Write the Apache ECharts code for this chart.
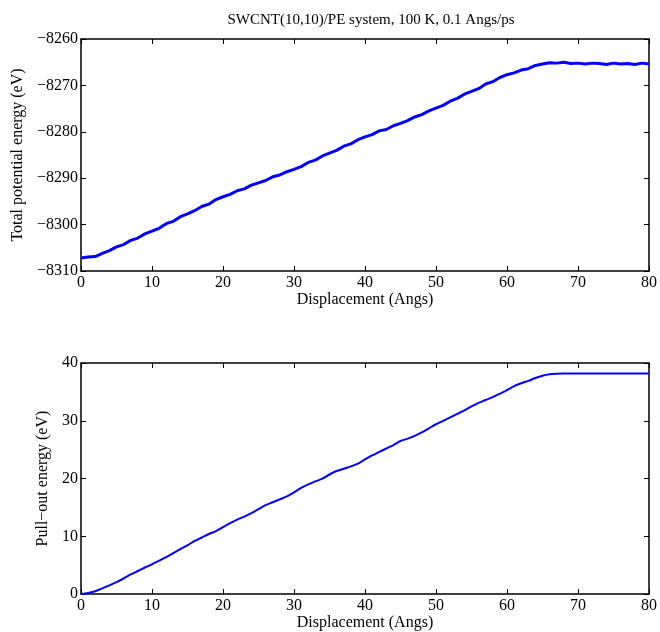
<!DOCTYPE html>
<html>
<head>
<meta charset="utf-8">
<script src="https://cdn.jsdelivr.net/npm/echarts@6/dist/echarts.min.js"></script>
<style>html,body{margin:0;padding:0;background:#fff}#c{width:660px;height:632px}</style>
</head>
<body>
<div id="c"></div>
<script>
var titleText = 'SWCNT(10,10)/PE system, 100 K, 0.1 Angs/ps';
var xName = 'Displacement (Angs)';
var yNameTop = 'Total potential energy (eV)';
var yNameBottom = 'Pull\u2212out energy (eV)';

var displacement = [0,1,2,3,4,5,6,7,8,9,10,11,12,13,14,15,16,17,18,19,20,21,22,23,24,25,26,27,28,29,30,31,32,33,34,35,36,37,38,39,40,41,42,43,44,45,46,47,48,49,50,51,52,53,54,55,56,57,58,59,60,61,62,63,64,65,66,67,68,69,70,71,72,73,74,75,76,77,78,79,80];

var totalEnergy = [-8307.2,-8307.0,-8306.9,-8306.2,-8305.6,-8304.8,-8304.3,-8303.4,-8302.9,-8302.0,-8301.4,-8300.8,-8299.8,-8299.3,-8298.3,-8297.7,-8297.0,-8296.1,-8295.6,-8294.6,-8294.0,-8293.5,-8292.7,-8292.3,-8291.5,-8291.0,-8290.5,-8289.7,-8289.3,-8288.6,-8288.1,-8287.5,-8286.6,-8286.1,-8285.2,-8284.6,-8284.0,-8283.1,-8282.6,-8281.7,-8281.1,-8280.6,-8279.8,-8279.5,-8278.7,-8278.2,-8277.6,-8276.8,-8276.3,-8275.5,-8274.9,-8274.3,-8273.4,-8272.8,-8271.9,-8271.3,-8270.7,-8269.7,-8269.2,-8268.3,-8267.7,-8267.3,-8266.7,-8266.4,-8265.7,-8265.4,-8265.1,-8265.2,-8265.0,-8265.3,-8265.2,-8265.4,-8265.2,-8265.3,-8265.5,-8265.2,-8265.4,-8265.3,-8265.5,-8265.2,-8265.4];

var pulloutEnergy = [0,0.2,0.5,1.0,1.5,2.06,2.7,3.4,4.0,4.6,5.15,5.8,6.4,7.1,7.8,8.45,9.2,9.8,10.4,10.9,11.6,12.3,12.9,13.4,14.0,14.7,15.4,15.9,16.4,16.9,17.6,18.4,19.0,19.5,20.0,20.7,21.3,21.7,22.1,22.6,23.3,24.0,24.6,25.2,25.8,26.5,26.9,27.4,28.0,28.7,29.4,30.0,30.6,31.2,31.8,32.5,33.1,33.6,34.1,34.7,35.3,36.0,36.5,36.9,37.4,37.8,38.05,38.15,38.2,38.2,38.2,38.2,38.2,38.2,38.2,38.2,38.2,38.2,38.2,38.2,38.2];

var xTicks = {min:0, max:80, interval:10};
var yTopTicks = {min:-8310, max:-8260, interval:10};
var yBottomTicks = {min:0, max:40, interval:10};

function pairs(xs, ys){ var out=[]; for(var i=0;i<xs.length;i++) out.push([xs[i], ys[i]]); return out; }

var FONT = 'Liberation Serif';
var FS = 16;
var lineStyleAxis = {color:'#000', width:1.5};
function minusFmt(v){ return String(v).replace('-', '\u2212'); }

function xAxisMain(grid){
  return {type:'value', gridIndex:grid, min:xTicks.min, max:xTicks.max, interval:xTicks.interval, position:'bottom',
    name:xName, nameLocation:'middle', nameGap:18, nameTextStyle:{fontFamily:FONT,fontSize:FS,color:'#000'},
    axisLine:{show:true,onZero:false,lineStyle:lineStyleAxis}, axisTick:{inside:true,length:5,lineStyle:{color:'#000',width:1}},
    axisLabel:{fontFamily:FONT,fontSize:FS,color:'#000',margin:4,formatter:minusFmt}, splitLine:{show:false}};
}
function xAxisTop(grid){
  return {type:'value', gridIndex:grid, min:xTicks.min, max:xTicks.max, interval:xTicks.interval, position:'top',
    axisLine:{show:true,onZero:false,lineStyle:lineStyleAxis}, axisTick:{inside:true,length:5,lineStyle:{color:'#000',width:1}},
    axisLabel:{show:false}, splitLine:{show:false}};
}
function yAxisMain(grid, t, name, gap){
  return {type:'value', gridIndex:grid, min:t.min, max:t.max, interval:t.interval, position:'left',
    name:name, nameLocation:'middle', nameGap:gap, nameRotate:90, nameTextStyle:{fontFamily:FONT,fontSize:FS,color:'#000'},
    axisLine:{show:true,onZero:false,lineStyle:lineStyleAxis}, axisTick:{inside:true,length:5,lineStyle:{color:'#000',width:1}},
    axisLabel:{fontFamily:FONT,fontSize:FS,color:'#000',margin:3,formatter:minusFmt}, splitLine:{show:false}};
}
function yAxisRight(grid, t){
  return {type:'value', gridIndex:grid, min:t.min, max:t.max, interval:t.interval, position:'right',
    axisLine:{show:true,onZero:false,lineStyle:lineStyleAxis}, axisTick:{inside:true,length:5,lineStyle:{color:'#000',width:1}},
    axisLabel:{show:false}, splitLine:{show:false}};
}

var chart = echarts.init(document.getElementById('c'), null, {renderer:'canvas'});
chart.setOption({
  animation:false,
  backgroundColor:'#fff',
  title:{text:titleText, left:366, textAlign:'center', top:8, textStyle:{fontFamily:FONT,fontSize:15,fontWeight:'normal',color:'#000'}},
  grid:[{left:81, top:39, width:569, height:232},{left:81, top:363, width:569, height:233}],
  xAxis:[xAxisMain(0), xAxisTop(0), xAxisMain(1), xAxisTop(1)],
  yAxis:[yAxisMain(0, yTopTicks, yNameTop, 55), yAxisRight(0, yTopTicks), yAxisMain(1, yBottomTicks, yNameBottom, 27), yAxisRight(1, yBottomTicks)],
  series:[
    {type:'line', xAxisIndex:0, yAxisIndex:0, data:pairs(displacement,totalEnergy), showSymbol:false, lineStyle:{color:'#0000ff', width:3}, itemStyle:{color:'#0000ff'}},
    {type:'line', xAxisIndex:2, yAxisIndex:2, data:pairs(displacement,pulloutEnergy), showSymbol:false, smooth:0.3, lineStyle:{color:'#0000ff', width:2}, itemStyle:{color:'#0000ff'}}
  ]
});
</script>
</body>
</html>
